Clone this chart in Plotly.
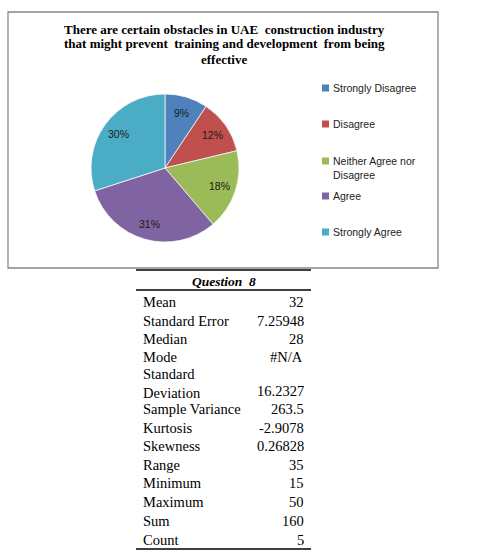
import math
import plotly.graph_objects as go

# ---- data ----
categories = ["Strongly Disagree", "Disagree", "Neither Agree nor Disagree", "Agree", "Strongly Agree"]
legend_labels = ["Strongly Disagree", "Disagree", "Neither Agree nor<br>Disagree", "Agree", "Strongly Agree"]
counts = [15, 19, 28, 50, 48]
colors = ["#4F81BD", "#C0504D", "#9BBB59", "#8064A2", "#4BACC6"]

title_lines = ["There are certain obstacles in UAE  construction industry",
               "that might prevent  training and development  from being",
               "effective"]

table_header = "Question  8"
stat_names = ["Mean", "Standard Error", "Median", "Mode", "Standard<br>Deviation",
              "Sample Variance", "Kurtosis", "Skewness", "Range", "Minimum",
              "Maximum", "Sum", "Count"]
stat_values = ["32", "7.25948", "28", "#N/A", "16.2327", "263.5", "-2.9078",
               "0.26828", "35", "15", "50", "160", "5"]

W, H = 478, 559
total = sum(counts)
pct_text = [f"{int(c * 100 / total + 0.5)}%" for c in counts]


def px(x):
    return x / W


def py(y):
    return 1 - y / H


CX, CY, R = 165, 168, 74

fig = go.Figure()
fig.add_trace(go.Pie(
    labels=categories, values=counts, textinfo="none",
    sort=False, direction="clockwise", rotation=0,
    marker=dict(colors=colors, line=dict(color="rgba(255,255,255,0.7)", width=1)),
    domain=dict(x=[px(CX - R), px(CX + R)], y=[py(CY + R), py(CY - R)]),
    showlegend=False, hoverinfo="label+percent",
))

shapes = []
annotations = []

# percentage labels, placed at each slice's mid-angle (derived from the data)
cum = 0
for c, t in zip(counts, pct_text):
    mid = (cum + c / 2) / total * 2 * math.pi
    cum += c
    lx = CX + 0.78 * R * math.sin(mid)
    ly = CY - 0.78 * R * math.cos(mid)
    annotations.append(dict(text=t, xref="paper", yref="paper",
                            x=px(lx), y=py(ly), xanchor="center", yanchor="middle",
                            showarrow=False,
                            font=dict(family="Liberation Sans", size=10.5, color="#1a1a1a")))

# chart border
shapes.append(dict(type="rect", xref="paper", yref="paper",
                   x0=px(8), x1=px(438), y0=py(268), y1=py(12),
                   line=dict(color="#878787", width=1.3), fillcolor="rgba(0,0,0,0)"))

# title
for i, line in enumerate(title_lines):
    annotations.append(dict(text="<b>" + line + "</b>", xref="paper", yref="paper",
                            x=px(224), y=py(29 + 15 * i), xanchor="center", yanchor="middle",
                            showarrow=False, align="center",
                            font=dict(family="Liberation Serif", size=13, color="#000000")))

# legend (manual)
legend_y = [88, 124, 161, 196, 232]
legend_y_offsets = [0, 0, 7, 0, 0]
for lab, col, ly, off in zip(legend_labels, colors, legend_y, legend_y_offsets):
    shapes.append(dict(type="rect", xref="paper", yref="paper",
                       x0=px(322), x1=px(329), y0=py(ly + 3.5), y1=py(ly - 3.5),
                       fillcolor=col, line=dict(width=0)))
    annotations.append(dict(text=lab, xref="paper", yref="paper",
                            x=px(331), y=py(ly + off), xanchor="left", yanchor="middle",
                            showarrow=False, align="left",
                            font=dict(family="Liberation Sans", size=10.5, color="#222222")))

# table lines
for ly in [270, 290, 549]:
    shapes.append(dict(type="line", xref="paper", yref="paper",
                       x0=px(136), x1=px(311), y0=py(ly), y1=py(ly),
                       line=dict(color="#000000", width=1.3)))

annotations.append(dict(text="<b><i>" + table_header + "</i></b>", xref="paper", yref="paper",
                        x=px(224), y=py(281), xanchor="center", yanchor="middle",
                        showarrow=False,
                        font=dict(family="Liberation Serif", size=13.5, color="#000000")))

FS = 14.5
row_y = [302, 321, 339, 357, 383, 409, 428, 446, 465, 483, 502, 521, 540]
for name, val, ry in zip(stat_names, stat_values, row_y):
    two_line = "<br>" in name
    annotations.append(dict(text=name, xref="paper", yref="paper",
                            x=px(141), y=py(ry), xanchor="left", yanchor="middle",
                            showarrow=False, align="left",
                            font=dict(family="Liberation Serif", size=FS, color="#000000")))
    vy = ry + 8 if two_line else ry
    xv, xa = (px(306), "right")
    if val == "#N/A":
        xv, xa = (px(286), "center")
    annotations.append(dict(text=val, xref="paper", yref="paper",
                            x=xv, y=py(vy), xanchor=xa, yanchor="middle",
                            showarrow=False,
                            font=dict(family="Liberation Serif", size=FS, color="#000000")))

fig.update_layout(
    width=W, height=H, margin=dict(l=0, r=0, t=0, b=0),
    paper_bgcolor="white", plot_bgcolor="white",
    shapes=shapes, annotations=annotations, showlegend=False,
)

fig.write_html("out.html")
